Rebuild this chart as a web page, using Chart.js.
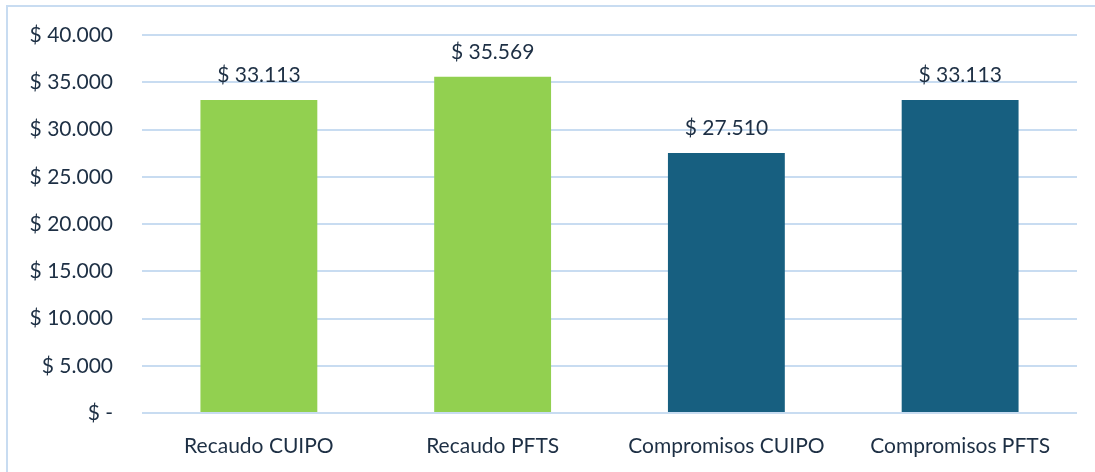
<!DOCTYPE html>
<html lang="es">
<head>
    <meta charset="UTF-8">
    <title>Recaudo y compromisos CUIPO vs PFTS</title>
    <script src="https://cdn.jsdelivr.net/npm/chart.js"></script>
    <style>
        html, body {
            margin: 0;
            padding: 0;
            background: #ffffff;
        }
        #chartContainer {
            width: 1095px;
            height: 472px;
            position: relative;
        }
    </style>
</head>
<body>
    <div id="chartContainer">
        <canvas id="barChart"></canvas>
    </div>

    <script>
        const categories = ['Recaudo CUIPO', 'Recaudo PFTS', 'Compromisos CUIPO', 'Compromisos PFTS'];
        const values = [33113, 35569, 27510, 33113];
        const barColors = ['#92d050', '#92d050', '#175f80', '#175f80'];
        const yTicks = [0, 5000, 10000, 15000, 20000, 25000, 30000, 35000, 40000];

        const textColor = '#1d2f44';
        const gridColor = '#c8dcf1';
        const fontFamily = 'Lato, "Open Sans", sans-serif';

        function money(v) {
            if (v === 0) return '$ -';
            return '$ ' + v.toLocaleString('de-DE');
        }

        // outer frame + value labels on top of bars
        const extras = {
            id: 'extras',
            beforeDraw(chart) {
                const ctx = chart.ctx;
                ctx.save();
                ctx.strokeStyle = gridColor;
                ctx.lineWidth = 2;
                ctx.beginPath();
                ctx.moveTo(7, chart.height);
                ctx.lineTo(7, 6);
                ctx.lineTo(chart.width, 6);
                ctx.stroke();
                ctx.restore();
            },
            afterDatasetsDraw(chart) {
                const ctx = chart.ctx;
                const meta = chart.getDatasetMeta(0);
                ctx.save();
                ctx.font = '21px ' + fontFamily;
                ctx.fillStyle = textColor;
                ctx.textAlign = 'center';
                ctx.textBaseline = 'alphabetic';
                meta.data.forEach((bar, i) => {
                    ctx.fillText(money(values[i]), bar.x, bar.y - 18);
                });
                ctx.restore();
            }
        };

        new Chart(document.getElementById('barChart').getContext('2d'), {
            type: 'bar',
            data: {
                labels: categories,
                datasets: [{
                    data: values,
                    backgroundColor: barColors,
                    borderWidth: 0,
                    categoryPercentage: 1.0,
                    barPercentage: 0.5
                }]
            },
            options: {
                responsive: true,
                maintainAspectRatio: false,
                animation: false,
                layout: {
                    padding: { top: 35, right: 18, bottom: 0, left: 0 }
                },
                plugins: {
                    legend: { display: false },
                    tooltip: { enabled: false }
                },
                scales: {
                    x: {
                        grid: { display: false },
                        border: { display: false },
                        ticks: {
                            color: textColor,
                            font: { family: fontFamily, size: 21 },
                            padding: 13,
                            maxRotation: 0
                        },
                        afterFit(scale) {
                            scale.height = 59;
                            scale.paddingLeft = 0;
                            scale.paddingRight = 0;
                        }
                    },
                    y: {
                        min: 0,
                        max: 40000,
                        afterBuildTicks(scale) {
                            scale.ticks = yTicks.map(v => ({ value: v }));
                        },
                        grid: {
                            color: gridColor,
                            lineWidth: 2,
                            drawTicks: false
                        },
                        border: { display: false },
                        ticks: {
                            color: textColor,
                            font: { family: fontFamily, size: 21 },
                            padding: 29,
                            callback: v => money(v)
                        },
                        afterFit(scale) {
                            scale.width = 142;
                            scale.paddingTop = 0;
                            scale.paddingBottom = 0;
                        }
                    }
                }
            },
            plugins: [extras]
        });
    </script>
</body>
</html>
